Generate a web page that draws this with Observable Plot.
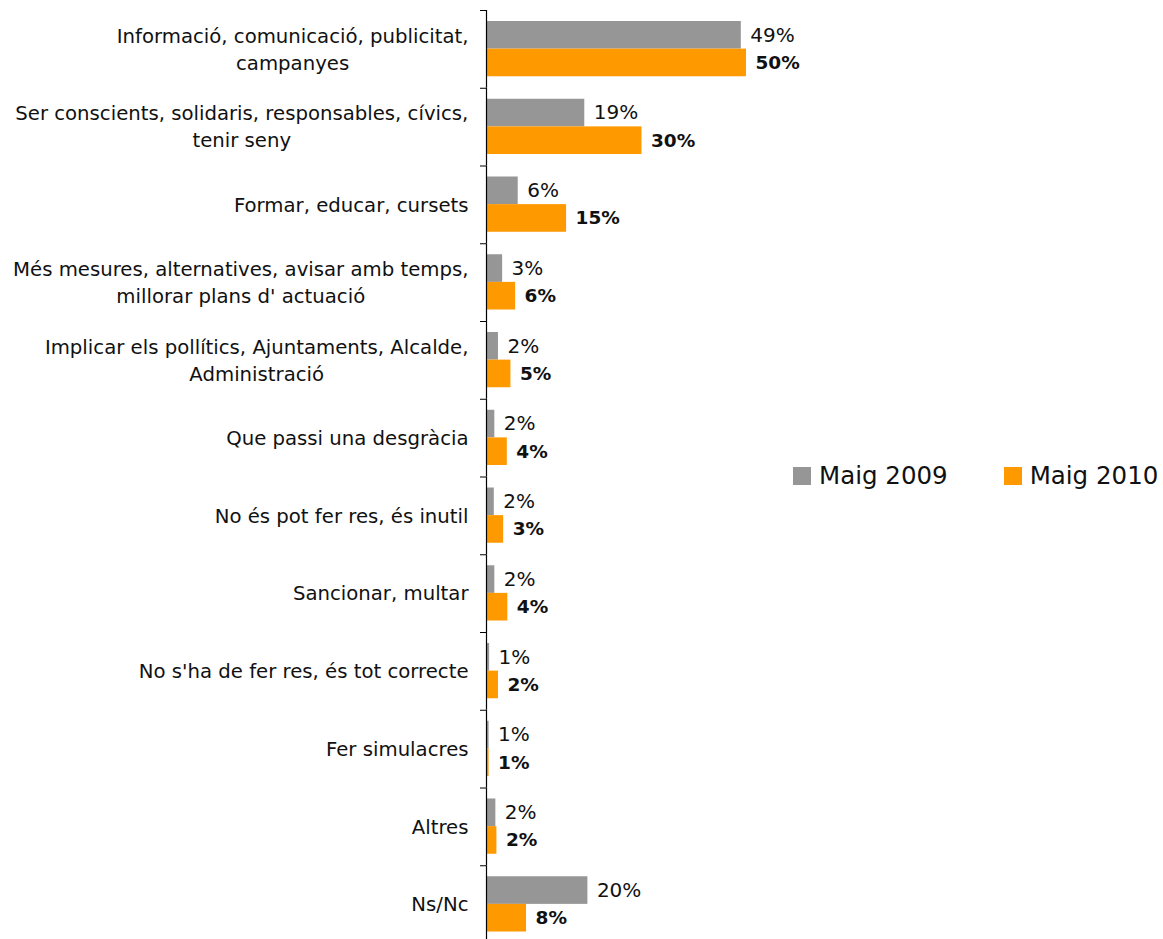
<!DOCTYPE html>
<html>
<head>
<meta charset="utf-8">
<script src="https://cdn.jsdelivr.net/npm/d3@7"></script>
<script src="https://cdn.jsdelivr.net/npm/@observablehq/plot@0.6"></script>
<style>
  html, body { margin: 0; padding: 0; background: #fff; overflow: hidden; }
  #wrap { position: relative; width: 1163px; height: 939px; font-family: "DejaVu Sans", sans-serif; }
  #legend { position: absolute; left: 793px; top: 461px; display: flex; align-items: center; font-size: 24.5px; color: #111; }
  #legend .item { display: flex; align-items: center; }
  #legend .sw { width: 18px; height: 18px; display: inline-block; margin-right: 8px; }
</style>
</head>
<body>
<div id="wrap">
  <div id="chart"></div>
  <div id="legend"></div>
</div>
<script>
const categories = [
  "Informació, comunicació, publicitat,\ncampanyes",
  "Ser conscients, solidaris, responsables, cívics,\ntenir seny",
  "Formar, educar, cursets",
  "Més mesures, alternatives, avisar amb temps,\nmillorar plans d' actuació",
  "Implicar els pollítics, Ajuntaments, Alcalde,\nAdministració",
  "Que passi una desgràcia",
  "No és pot fer res, és inutil",
  "Sancionar, multar",
  "No s'ha de fer res, és tot correcte",
  "Fer simulacres",
  "Altres",
  "Ns/Nc"
];
const series = ["Maig 2009", "Maig 2010"];
const colors = ["#969696", "#FF9900"];
const values2009 = [49, 18.9, 6.1, 3.1, 2.3, 1.6, 1.5, 1.6, 0.6, 0.5, 1.8, 19.5];
const values2010 = [50, 29.9, 15.4, 5.6, 4.7, 4.0, 3.3, 4.1, 2.3, 0.5, 2.0, 7.7];
const labels2009 = ["49%", "19%", "6%", "3%", "2%", "2%", "2%", "2%", "1%", "1%", "2%", "20%"];
const labels2010 = ["50%", "30%", "15%", "6%", "5%", "4%", "3%", "4%", "2%", "1%", "2%", "8%"];

const rows = [];
categories.forEach((c, i) => {
  rows.push({category: c, series: series[0], value: values2009[i], label: labels2009[i]});
  rows.push({category: c, series: series[1], value: values2010[i], label: labels2010[i]});
});

const W = 1163, H = 943, mTop = 10, mBottom = 0, mLeft = 486;
const step = (H - mTop - mBottom) / categories.length;

const chart = Plot.plot({
  width: W,
  height: H,
  marginTop: mTop,
  marginBottom: mBottom,
  marginLeft: mLeft,
  marginRight: W - mLeft - 520,
  style: {fontFamily: "DejaVu Sans, sans-serif", color: "#111", background: "transparent"},
  x: {domain: [0, 100], axis: null},
  y: {domain: series, axis: null, padding: 0, round: false, insetTop: 11, insetBottom: 11.5},
  fy: {domain: categories, padding: 0, round: false, axis: null},
  color: {domain: series, range: colors},
  marks: [
    Plot.barX(rows, {fy: "category", y: "series", x: "value", fill: "series"}),
    Plot.text(rows.filter(d => d.series === series[0]), {fy: "category", y: "series", x: "value", text: "label", textAnchor: "start", dx: 9, fontSize: 20, fill: "#111"}),
    Plot.text(rows.filter(d => d.series === series[1]), {fy: "category", y: "series", x: "value", text: "label", textAnchor: "start", dx: 9, fontSize: 18.5, fontWeight: "bold", fill: "#111"}),
    Plot.ruleX([0], {stroke: "#000", strokeWidth: 1.2}),
    Plot.axisFy({anchor: "left", label: null, tickSize: 0, tickPadding: 18, dy: -2, fontSize: 19.7, lineHeight: 1.37, fill: "#111"}),
    Plot.axisFy({anchor: "left", label: null, text: null, tickSize: 6, dy: -step / 2, stroke: "#000"})
  ]
});
document.getElementById("chart").appendChild(chart);

// Center multi-line category labels (as in the original), keeping right edge aligned
function centerLines(t) {
  const spans = t.querySelectorAll("tspan");
  if (spans.length > 1) {
    const w = t.getBBox().width;
    t.setAttribute("text-anchor", "middle");
    spans.forEach(s => s.setAttribute("x", -w / 2 + (+s.getAttribute("x") || 0)));
  }
}
chart.querySelectorAll("text[text-anchor='end']").forEach(centerLines);
chart.querySelectorAll("g[text-anchor='end'] > text").forEach(centerLines);

const legend = document.getElementById("legend");
series.forEach((s, i) => {
  const item = document.createElement("div");
  item.className = "item";
  if (i > 0) item.style.marginLeft = "56px";
  const sw = document.createElement("span");
  sw.className = "sw";
  sw.style.background = colors[i];
  const tx = document.createElement("span");
  tx.textContent = s;
  item.appendChild(sw);
  item.appendChild(tx);
  legend.appendChild(item);
});
</script>
</body>
</html>
